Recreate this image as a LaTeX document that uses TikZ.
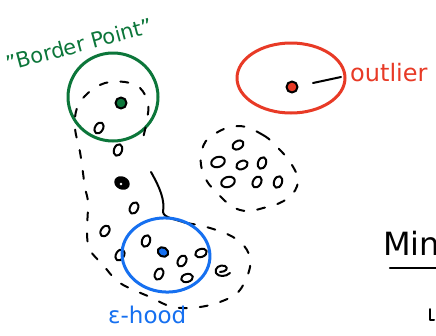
\documentclass[tikz,border=0pt]{standalone}
\usepackage{fontspec}
\setmainfont{DejaVu Sans}
\usetikzlibrary{shapes.geometric}
\definecolor{sgreen}{RGB}{12,118,58}
\definecolor{sred}{RGB}{232,58,38}
\definecolor{sblue}{RGB}{22,112,240}
\begin{document}
\begin{tikzpicture}[x=1pt,y=-1pt,line cap=round,line join=round,
  ink/.style={line width=2pt,draw=black},
  opt/.style={ink,ellipse,inner sep=0pt,minimum width=12pt,minimum height=8pt},
  hood/.style={ellipse,inner sep=0pt,line width=3pt},
  dashline/.style={ink,dash pattern=on 8pt off 13pt},
  lbl/.style={inner sep=0pt,anchor=west}]
\useasboundingbox (0,0) rectangle (436,335);
\fill[white] (0,0) rectangle (436,335);

% ---- border point neighbourhood (green)
\node[hood,draw=sgreen,minimum width=90pt,minimum height=88pt] (gcirc) at (113,97) {};
\node[ink,circle,fill=sgreen,inner sep=0pt,minimum size=11pt] (gpt) at (121,103) {};
\node[opt,rotate=60] (p1) at (99,128) {};
\node[lbl,text=sgreen,font=\fontsize{21}{21}\selectfont,rotate=15] (gtxt) at (6,64) {"Border Point"};

% ---- chain / cluster boundary
\draw[dashline] plot[smooth,tension=0.6] coordinates {(187,223) (210,228) (233,237) (247,250) (250,267) (240,290) (225,300) (200,307) (173,307) (150,297) (120,283) (103,265) (90,250) (87,233) (88,203) (85,188) (83,173) (80,152) (75,128) (77,108) (88,93) (105,83) (125,82) (140,88) (148,103) (147,120) (143,138)};
\coordinate (s1) at (151,172);
\coordinate (s2) at (186,223);
\draw[ink] (s1) .. controls (160,188) and (165,200) .. (163,212) .. controls (164,218) and (175,219) .. (s2);

\node[opt,rotate=70] (p2) at (118,150) {};
\node[ink,ellipse,fill=black,inner sep=0pt,minimum width=14pt,minimum height=11pt,rotate=-25] (p3) at (122,183) {};
\fill[white] (121,184) circle (1.3pt);
\node[opt,rotate=65] (p4) at (134,208) {};
\node[opt,rotate=55] (p5) at (105,231) {};
\node[opt,rotate=60] (p6) at (120,255) {};

% ---- core point neighbourhood (blue)
\node[hood,draw=sblue,minimum width=88pt,minimum height=74pt,rotate=-5] (bcirc) at (166,255) {};
\node[ink,ellipse,fill=sblue,inner sep=0pt,minimum width=11pt,minimum height=9pt,rotate=-30] (bpt) at (163,252) {};
\node[opt,rotate=70] (p7) at (146,241) {};
\node[opt,rotate=60] (p8) at (182,261) {};
\node[opt,rotate=20] (p9) at (201,253) {};
\node[opt,rotate=65] (p10) at (159,274) {};
\node[opt,rotate=15] (p11) at (187,278) {};
\draw[ink] (220,272) .. controls (226,272) and (229,268) .. (225,266) .. controls (220,264) and (214,268) .. (216,273) .. controls (218,277) and (226,277) .. (230,273);
\node[lbl,text=sblue,font=\fontsize{23}{23}\selectfont] (btxt) at (108,315) {ε-hood};

% ---- outlier (red)
\node[hood,draw=sred,minimum width=108pt,minimum height=70pt] (rcirc) at (291,78) {};
\node[ink,circle,fill=sred,inner sep=0pt,minimum size=11pt] (rpt) at (292,87) {};
\node[lbl,text=sred,font=\fontsize{24}{24}\selectfont] (rtxt) at (350,73) {outlier};
\coordinate (r1) at (313,83);
\coordinate (r2) at (341,77);
\draw[ink] (r1) -- (r2);

% ---- second dense cluster
\draw[dashline] plot[smooth cycle,tension=0.7] coordinates {(238,126) (263,135) (280,150) (292,165) (298,182) (288,198) (267,207) (240,210) (217,193) (203,173) (202,150) (213,135)};
\node[opt,rotate=30] (q1) at (238,145) {};
\node[opt,rotate=20,minimum width=14pt,minimum height=10pt] (q2) at (218,162) {};
\node[opt,rotate=25] (q3) at (242,165) {};
\node[opt,rotate=70] (q4) at (262,163) {};
\node[opt,rotate=20,minimum width=14pt,minimum height=10pt] (q5) at (228,182) {};
\node[opt,rotate=60] (q6) at (257,182) {};
\node[opt,rotate=70] (q7) at (278,182) {};

% ---- "Min" heading (cut off at the right edge)
\node[lbl,font=\fontsize{32}{32}\selectfont] (mtxt) at (383,243) {Min};
\coordinate (u1) at (390,268);
\coordinate (u2) at (436,268);
\draw[line width=2.4pt] (u1) -- (u2);
\draw[ink] (430,309) -- (430,320) -- (434,320);
\end{tikzpicture}
\end{document}
